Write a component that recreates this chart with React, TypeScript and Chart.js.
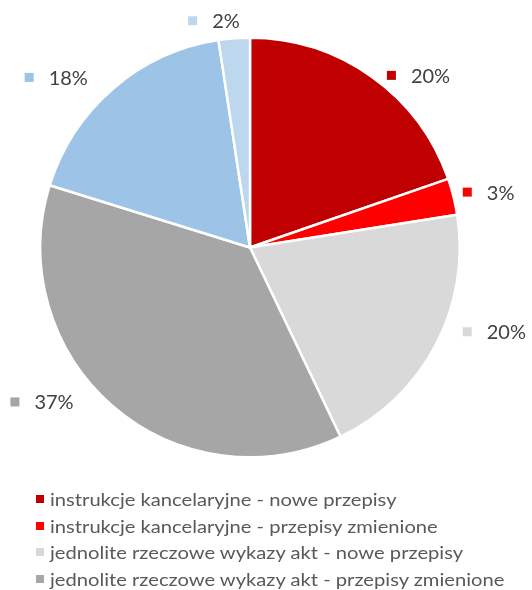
import React, { useEffect, useRef } from "react";
import { Chart, registerables } from "chart.js";

Chart.register(...registerables);

const categories = [
  "instrukcje kancelaryjne - nowe przepisy",
  "instrukcje kancelaryjne - przepisy zmienione",
  "jednolite rzeczowe wykazy akt - nowe przepisy",
  "jednolite rzeczowe wykazy akt - przepisy zmienione",
  "jednolite rzeczowe wykazy akt - nowe przepisy (2)",
  "jednolite rzeczowe wykazy akt - przepisy zmienione (2)",
];
const shares = [19.7, 2.8, 20.4, 36.9, 17.8, 2.4];
const colors = ["#C00000", "#FF0000", "#D9D9D9", "#A6A6A6", "#9DC3E6", "#BDD7EE"];
const legendCount = 4;

// label marker placement: polar (degrees clockwise from top, radius factor)
const labelAngles = [39.4, 75.7, 111.2, 236.7, 307.6, 345.8];
const labelRadii = [1.062, 1.069, 1.111, 1.341, 1.329, 1.115];

const FONT = "Lato, 'Open Sans', sans-serif";

const labelPlugin = {
  id: "pctLabels",
  afterDatasetsDraw(chart: any) {
    const meta = chart.getDatasetMeta(0);
    const ctx = chart.ctx;
    const total = shares.reduce((a, b) => a + b, 0);
    ctx.save();
    meta.data.forEach((arc: any, i: number) => {
      const { x, y, outerRadius } = arc.getProps(["x", "y", "outerRadius"], true);
      const a = (labelAngles[i] * Math.PI) / 180;
      const d = outerRadius * labelRadii[i];
      const cx = x + Math.sin(a) * d;
      const cy = y - Math.cos(a) * d;
      ctx.fillStyle = colors[i];
      ctx.fillRect(cx - 4.5, cy - 4.5, 9, 9);
      ctx.fillStyle = "#404040";
      ctx.font = `20px ${FONT}`;
      ctx.textBaseline = "middle";
      ctx.textAlign = "left";
      const pct = Math.round((shares[i] / total) * 100) + "%";
      ctx.fillText(pct, cx + 19.5, cy + 1);
    });
    ctx.restore();
  },
};

export default function App() {
  const ref = useRef<HTMLCanvasElement>(null);
  useEffect(() => {
    if (!ref.current) return;
    const chart = new Chart(ref.current, {
      type: "pie",
      data: {
        labels: categories,
        datasets: [
          {
            data: shares,
            backgroundColor: colors,
            borderColor: "#FFFFFF",
            borderWidth: 2.5,
          },
        ],
      },
      options: {
        responsive: false,
        animation: false,
        layout: { padding: { left: 39, right: 71, top: 36, bottom: 131 } },
        plugins: {
          legend: { display: false },
          tooltip: { enabled: false },
        },
      },
      plugins: [labelPlugin],
    });
    return () => chart.destroy();
  }, []);

  return (
    <div style={{ position: "absolute", left: 0, top: 0, width: 532, height: 590, background: "#fff" }}>
      <canvas ref={ref} width={532} height={590} style={{ display: "block" }} />
      <div style={{ position: "absolute", left: 36, top: 485.6, fontFamily: FONT, fontSize: 18, color: "#595959" }}>
        {categories.slice(0, legendCount).map((c, i) => (
          <div key={c} style={{ display: "flex", alignItems: "center", height: 26.7, whiteSpace: "nowrap" }}>
            <span style={{ display: "inline-block", width: 8, height: 8, background: colors[i], marginRight: 6, flex: "none" }} />
            <span style={{ display: "inline-block", transform: "scaleX(1.12)", transformOrigin: "left center" }}>{c}</span>
          </div>
        ))}
      </div>
    </div>
  );
}
